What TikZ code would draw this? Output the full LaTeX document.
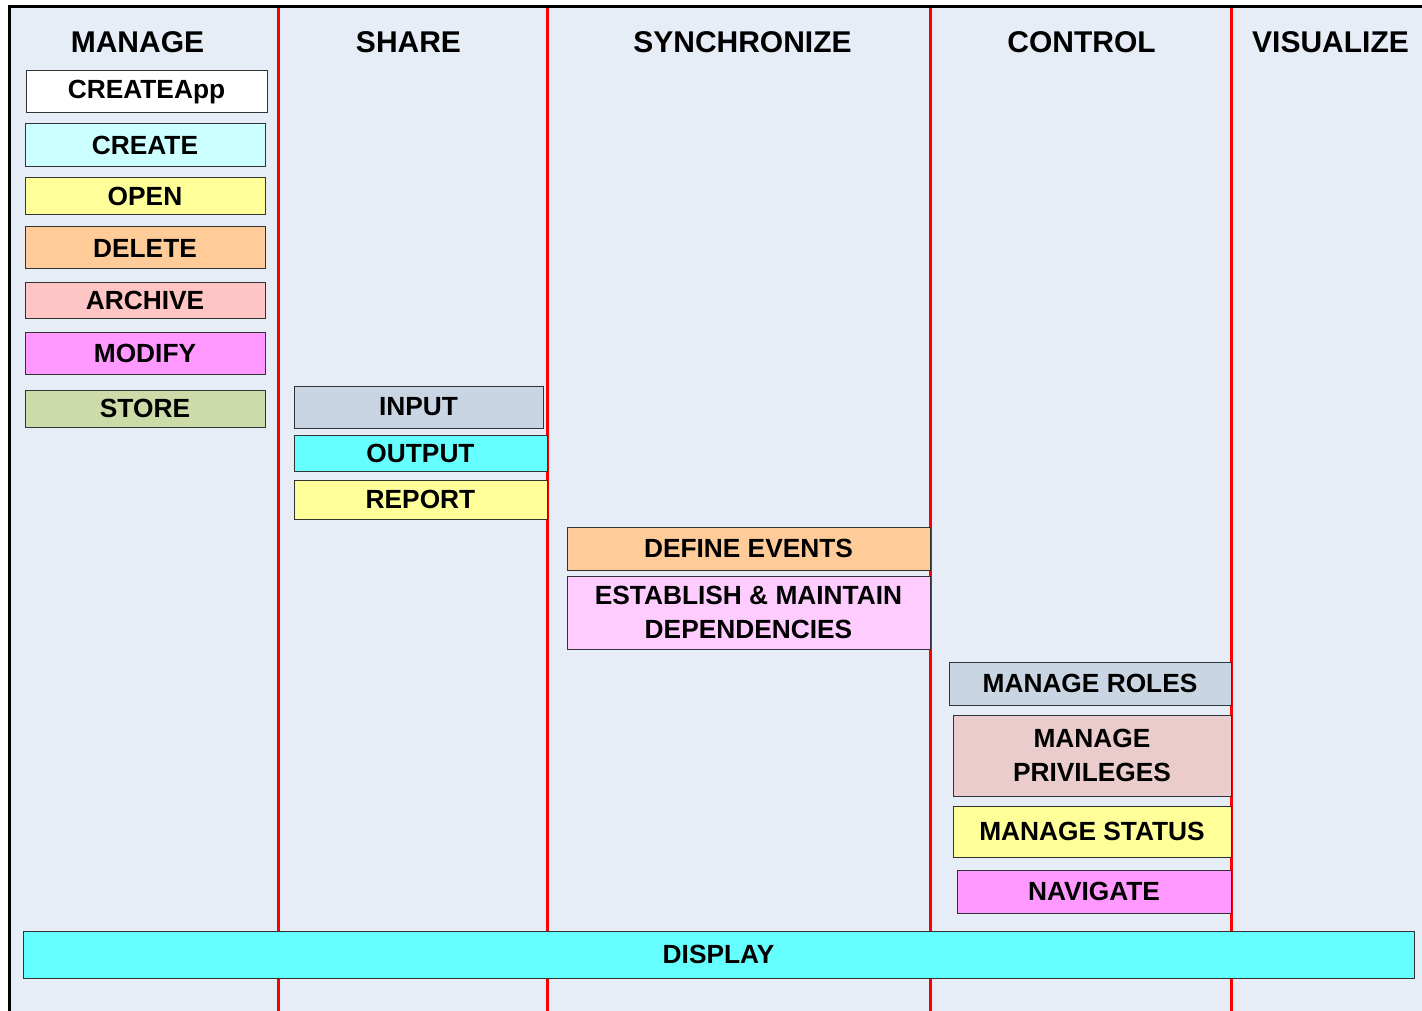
\documentclass[tikz,border=0pt]{standalone}
\usepackage{fontspec}
\setmainfont{Liberation Sans}
\definecolor{bgblue}{HTML}{E7EDF7}
\definecolor{lanered}{HTML}{FF0000}
\definecolor{cCreate}{HTML}{CCFFFF}
\definecolor{cYellow}{HTML}{FFFF99}
\definecolor{cOrange}{HTML}{FFCC99}
\definecolor{cPink}{HTML}{FFC4C4}
\definecolor{cMagenta}{HTML}{FF99FF}
\definecolor{cGreen}{HTML}{CCDBA8}
\definecolor{cSteel}{HTML}{C9D5E3}
\definecolor{cCyan}{HTML}{66FFFF}
\definecolor{cLilac}{HTML}{FFCCFF}
\definecolor{cRose}{HTML}{EBCCCC}
\tikzset{
  box/.style={rectangle, draw=black!80, line width=1pt, inner sep=0pt,
    align=center, font=\fontsize{26.3}{34}\selectfont\bfseries},
  header/.style={anchor=base, inner sep=0pt, font=\fontsize{30}{34}\selectfont\bfseries},
  laneline/.style={draw=lanered, line width=3pt},
  frameline/.style={draw=black, line width=3pt}
}
\begin{document}
\begin{tikzpicture}[x=1pt, y=-1pt]
  \useasboundingbox (0,0) rectangle (1422,1011);
  % canvas and frame
  \fill[bgblue] (9,7) rectangle (1422,1011);
  \draw[frameline] (9,1011) -- (9,7) -- (1422,7);
  % lane separators
  \foreach \lx in {278,547,930,1231}
    \draw[laneline] (\lx,8.5) -- (\lx,1011);
  % lane headings
  \node[header] (hManage) at (137.5,53) {MANAGE};
  \node[header] (hShare) at (408.5,53) {SHARE};
  \node[header] (hSync) at (742.5,53) {SYNCHRONIZE};
  \node[header] (hControl) at (1081.5,53) {CONTROL};
  \node[header] (hVisual) at (1330.5,53) {VISUALIZE};
  % MANAGE lane
  \node[box, fill=white, minimum width=241, minimum height=42] (createapp) at (146.5,92) {CREATEApp};
  \node[box, fill=cCreate, minimum width=240, minimum height=43] (create) at (145,145.5) {CREATE};
  \node[box, fill=cYellow, minimum width=240, minimum height=37] (open) at (145,196.5) {OPEN};
  \node[box, fill=cOrange, minimum width=240, minimum height=42] (delete) at (145,248) {DELETE};
  \node[box, fill=cPink, minimum width=240, minimum height=36] (archive) at (145,300) {ARCHIVE};
  \node[box, fill=cMagenta, minimum width=240, minimum height=42] (modify) at (145,353) {MODIFY};
  \node[box, fill=cGreen, minimum width=240, minimum height=37] (store) at (145,408.5) {STORE};
  % SHARE lane
  \node[box, fill=cSteel, minimum width=249, minimum height=42] (input) at (418.5,407) {INPUT};
  \node[box, fill=cCyan, minimum width=253, minimum height=36] (output) at (420.5,453) {OUTPUT};
  \node[box, fill=cYellow, minimum width=253, minimum height=39] (report) at (420.5,499.5) {REPORT};
  % SYNCHRONIZE lane
  \node[box, fill=cOrange, minimum width=363, minimum height=43] (events) at (748.5,548.5) {DEFINE EVENTS};
  \node[box, fill=cLilac, minimum width=363, minimum height=73] (depend) at (748.5,612.5) {ESTABLISH \& MAINTAIN\\DEPENDENCIES};
  % CONTROL lane
  \node[box, fill=cSteel, minimum width=282, minimum height=43] (roles) at (1090,683.5) {MANAGE ROLES};
  \node[box, fill=cRose, minimum width=278, minimum height=81] (privileges) at (1092,755.5) {MANAGE\\PRIVILEGES};
  \node[box, fill=cYellow, minimum width=278, minimum height=51] (status) at (1092,831.5) {MANAGE STATUS};
  \node[box, fill=cMagenta, minimum width=274, minimum height=43] (navigate) at (1094,891.5) {NAVIGATE};
  % spanning bar
  \node[box, fill=cCyan, minimum width=1391, minimum height=47] (display) at (718.5,954.5) {DISPLAY};
\end{tikzpicture}
\end{document}
